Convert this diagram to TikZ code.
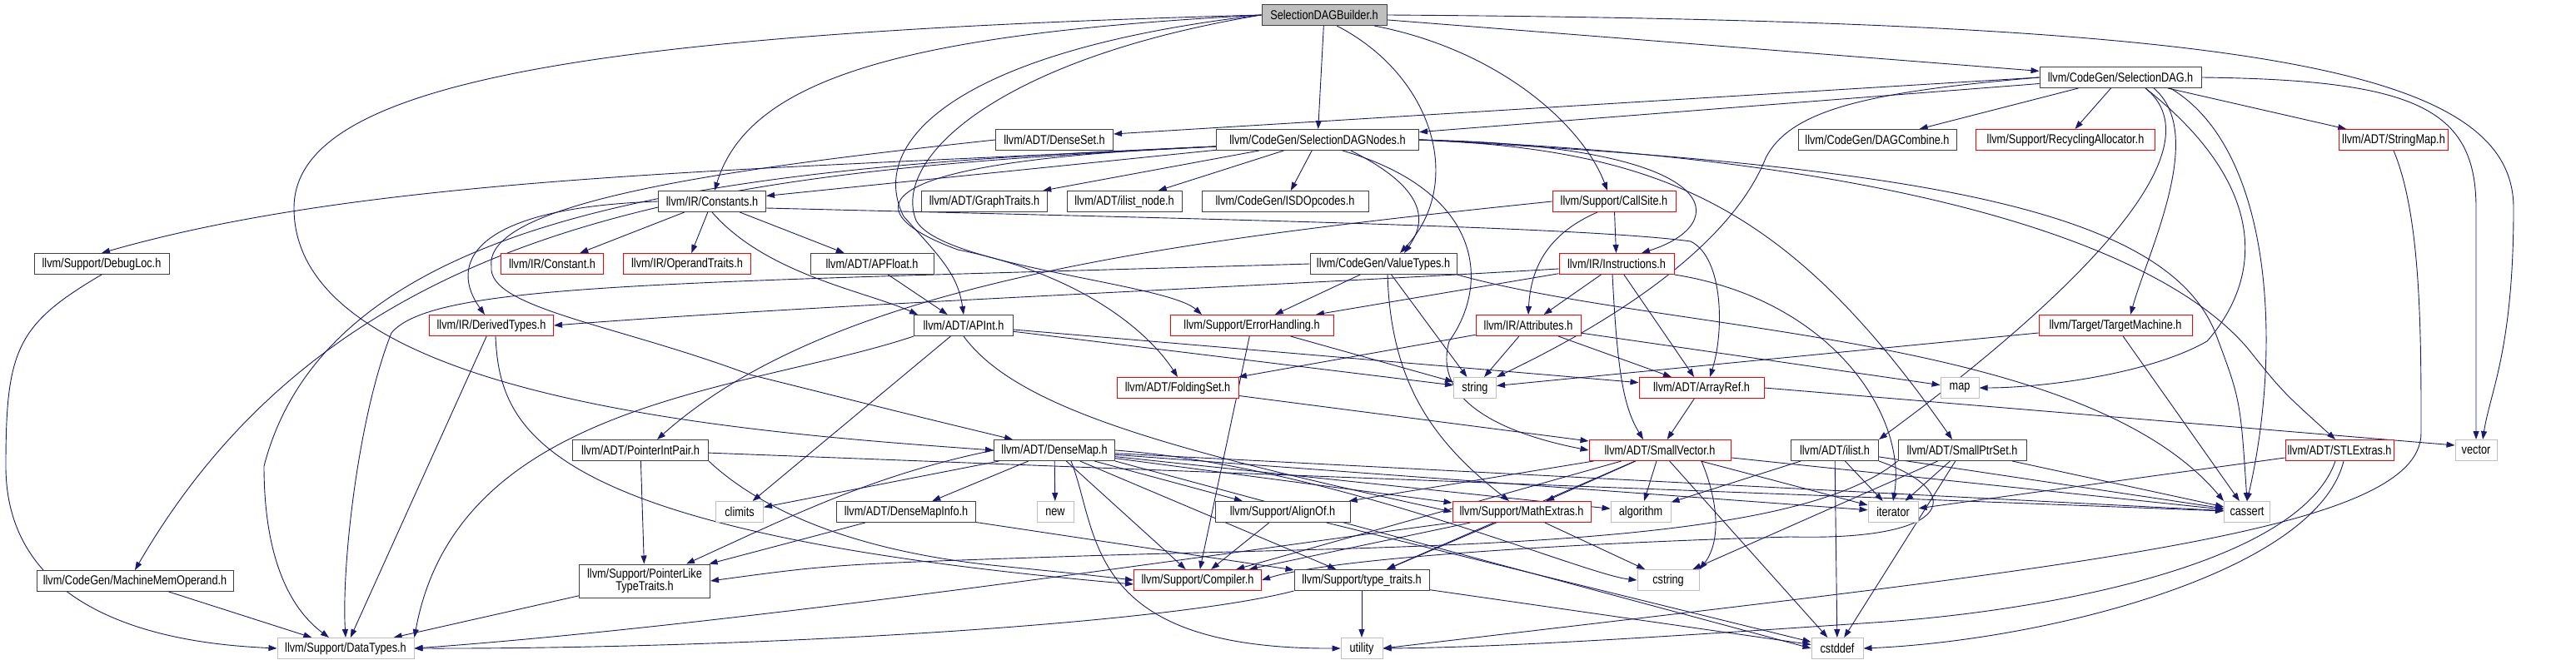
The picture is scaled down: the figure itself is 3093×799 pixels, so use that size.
\documentclass[tikz,border=0pt]{standalone}
\usepackage{fontspec}
\newfontfamily\graphfont{Liberation Sans}[FakeStretch=0.82]
\usetikzlibrary{arrows.meta,backgrounds}
\definecolor{edgeblue}{RGB}{25,25,112}
\definecolor{sysgray}{RGB}{191,191,191}
\definecolor{docdark}{RGB}{64,64,64}
\tikzset{
  hdr/.style={rectangle, draw=docdark, line width=1pt, fill=white,
              minimum height=25pt, inner sep=1pt, align=center,
              font=\graphfont\fontsize{15.5}{15}\selectfont},
  rootbox/.style={hdr, fill=sysgray},
  redbox/.style={hdr, draw=red},
  sysbox/.style={hdr, draw=sysgray},
  wd/.style={minimum width=#1pt},
  arr/.style={-{Triangle[length=10pt,width=7pt]}, line width=0.9pt, color=edgeblue},
}
\begin{document}
\begin{tikzpicture}[x=1pt, y=-1pt]
  \useasboundingbox (0,0) rectangle (3093,799);

  \node[rootbox, wd=150] (bld) at (1590,18) {SelectionDAGBuilder.h};
  \node[hdr, wd=194] (sdag) at (2546,93) {llvm/CodeGen/SelectionDAG.h};

  \node[hdr, wd=141] (denseset) at (1266,168) {llvm/ADT/DenseSet.h};
  \node[hdr, wd=243] (sdn) at (1582,168) {llvm/CodeGen/SelectionDAGNodes.h};
  \node[hdr, wd=190] (dagcomb) at (2254,168) {llvm/CodeGen/DAGCombine.h};
  \node[redbox, wd=215] (recyc) at (2480,168) {llvm/Support/RecyclingAllocator.h};
  \node[redbox, wd=131] (strmap) at (2874,168) {llvm/ADT/StringMap.h};

  \node[hdr, wd=129] (constants) at (855,242) {llvm/IR/Constants.h};
  \node[hdr, wd=151] (graphtr) at (1182,242) {llvm/ADT/GraphTraits.h};
  \node[hdr, wd=138] (ilistnode) at (1350,242) {llvm/ADT/ilist\_node.h};
  \node[hdr, wd=200] (isd) at (1543,242) {llvm/CodeGen/ISDOpcodes.h};
  \node[redbox, wd=148] (callsite) at (1938,242) {llvm/Support/CallSite.h};

  \node[hdr, wd=162] (debugloc) at (122,317) {llvm/Support/DebugLoc.h};
  \node[redbox, wd=123] (constant) at (663,317) {llvm/IR/Constant.h};
  \node[redbox, wd=153] (opertr) at (825,317) {llvm/IR/OperandTraits.h};
  \node[hdr, wd=148] (apfloat) at (1047,317) {llvm/ADT/APFloat.h};
  \node[hdr, wd=176] (vt) at (1661,317) {llvm/CodeGen/ValueTypes.h};
  \node[redbox, wd=138] (instr) at (1941,317) {llvm/IR/Instructions.h};

  \node[redbox, wd=149] (derived) at (590,391) {llvm/IR/DerivedTypes.h};
  \node[hdr, wd=119] (apint) at (1157,391) {llvm/ADT/APInt.h};
  \node[redbox, wd=196] (errh) at (1503,391) {llvm/Support/ErrorHandling.h};
  \node[redbox, wd=126] (attrs) at (1835,391) {llvm/IR/Attributes.h};
  \node[redbox, wd=184] (target) at (2540,391) {llvm/Target/TargetMachine.h};

  \node[redbox, wd=146] (folding) at (1414,466) {llvm/ADT/FoldingSet.h};
  \node[sysbox, wd=51] (string) at (1771,466) {string};
  \node[redbox, wd=150] (arrayref) at (2043,466) {llvm/ADT/ArrayRef.h};
  \node[sysbox, wd=46] (map) at (2353,466) {map};

  \node[hdr, wd=163] (pip) at (769,541) {llvm/ADT/PointerIntPair.h};
  \node[hdr, wd=145] (densemap) at (1266,541) {llvm/ADT/DenseMap.h};
  \node[redbox, wd=170] (smallvec) at (1993,541) {llvm/ADT/SmallVector.h};
  \node[hdr, wd=105] (ilist) at (2203,541) {llvm/ADT/ilist.h};
  \node[hdr, wd=154] (smallptr) at (2356,541) {llvm/ADT/SmallPtrSet.h};
  \node[redbox, wd=130] (stlext) at (2809,541) {llvm/ADT/STLExtras.h};
  \node[sysbox, wd=50] (vector) at (2973,541) {vector};

  \node[sysbox, wd=57] (climits) at (888,615) {climits};
  \node[hdr, wd=167] (dmi) at (1088,615) {llvm/ADT/DenseMapInfo.h};
  \node[sysbox, wd=44] (new) at (1267,615) {new};
  \node[hdr, wd=162] (alignof) at (1540,615) {llvm/Support/AlignOf.h};
  \node[redbox, wd=166] (mathext) at (1827,615) {llvm/Support/MathExtras.h};
  \node[sysbox, wd=72] (algorithm) at (1970,615) {algorithm};
  \node[sysbox, wd=60] (iterator) at (2273,615) {iterator};
  \node[sysbox, wd=55] (cassert) at (2698,615) {cassert};

  \node[hdr, wd=236] (mmo) at (162,698) {llvm/CodeGen/MachineMemOperand.h};
  \node[hdr, wd=157, minimum height=40pt] (pltt) at (774,698) {llvm/Support/PointerLike\\TypeTraits.h};
  \node[redbox, wd=153] (compiler) at (1438,697) {llvm/Support/Compiler.h};
  \node[hdr, wd=162] (typetr) at (1635,697) {llvm/Support/type\_traits.h};
  \node[sysbox, wd=74] (cstring) at (2003,697) {cstring};

  \node[sysbox, wd=164] (datatypes) at (415,779) {llvm/Support/DataTypes.h};
  \node[sysbox, wd=50] (utility) at (1635,779) {utility};
  \node[sysbox, wd=62] (cstddef) at (2206,779) {cstddef};

  \begin{scope}[on background layer]
    % SelectionDAGBuilder.h
    \draw[arr] (bld) -- (sdag);
    \draw[arr] (bld) -- (sdn);
    \draw[arr] ([xshift=15pt]bld.south) .. controls (1720,90) and (1760,220) .. ([xshift=20pt]vt.north);
    \draw[arr] ([xshift=60pt]bld.south) .. controls (1800,60) and (1900,150) .. ([xshift=-8pt]callsite.north);
    \draw[arr] (bld.east) .. controls (2700,25) and (3018,80) .. (3018,250) .. controls (3018,420) and (2990,470) .. ([xshift=8pt]vector.north);
    \draw[arr] (bld.west) .. controls (1100,40) and (900,90) .. ([xshift=3pt]constants.north);
    \draw[arr] (bld.west) .. controls (1150,60) and (1040,170) .. (1085,260) .. controls (1130,310) and (1150,330) .. (apint.north);
    \draw[arr] (bld.west) .. controls (1200,70) and (1070,190) .. (1100,265) .. controls (1130,320) and (1400,340) .. ([xshift=-60pt]errh.north);
    \draw[arr] (bld.west) .. controls (700,40) and (353,100) .. (353,250) .. controls (353,480) and (900,520) .. (densemap.west);

    % SelectionDAG.h
    \foreach \dst in {sdn,dagcomb,recyc,strmap} \draw[arr] (sdag) -- (\dst);
    \draw[arr] (sdag.west) -- ([yshift=-6pt]denseset.north east);
    \draw[arr] ([xshift=30pt]sdag.south) .. controls (2680,190) and (2430,400) .. (ilist.north east);
    \draw[arr] ([xshift=40pt]sdag.south) .. controls (2650,160) and (2580,300) .. ([xshift=18pt]target.north);
    \draw[arr] ([xshift=60pt]sdag.south) .. controls (2730,180) and (2740,420) .. (cassert.north);
    \draw[arr] ([xshift=30pt]sdag.south) .. controls (2720,220) and (2720,330) .. (2650,410) .. controls (2580,450) and (2450,466) .. (map.east);
    \draw[arr] (sdag.west) .. controls (2250,110) and (2150,130) .. (2120,190) .. controls (2080,290) and (1950,380) .. (string.north east);
    \draw[arr] (sdag.east) .. controls (2900,96) and (2973,130) .. (2973,250) -- (vector);

    % SelectionDAGNodes.h
    \foreach \dst in {ilistnode,graphtr,isd,constants} \draw[arr] (sdn) -- (\dst);
    \draw[arr] ([yshift=-8pt]sdn.west) .. controls (900,205) and (450,210) .. (debugloc.north);
    \draw[arr] ([yshift=-8pt]sdn.west) .. controls (900,205) and (420,240) .. (mmo.north);
    \draw[arr] ([xshift=40pt]sdn.south) .. controls (1720,230) and (1710,270) .. ([xshift=25pt]vt.north);
    \draw[arr] (sdn.east) .. controls (2080,175) and (2080,270) .. ([xshift=30pt]instr.north);
    \draw[arr] (sdn.east) .. controls (2000,180) and (2150,250) .. ([xshift=-12pt]smallptr.north);
    \draw[arr] ([xshift=30pt]sdn.south) .. controls (1780,230) and (1790,340) .. (1740,410) .. controls (1720,480) and (1800,520) .. (smallvec.west);
    \draw[arr] (sdn.east) .. controls (2300,190) and (2600,300) .. (2700,420) .. controls (2740,470) .. ([xshift=-5pt]stlext.north);
    \draw[arr] (sdn.east) .. controls (2300,200) and (2600,250) .. (2660,400) .. controls (2690,480) .. (cassert.north);
    \draw[arr] ([yshift=-8pt]sdn.west) .. controls (1000,195) and (1040,260) .. (1150,300) .. controls (1300,330) and (1380,400) .. (folding.north);
    \draw[arr] ([yshift=-8pt]sdn.west) .. controls (900,200) and (400,240) .. (317,560) .. controls (317,690) and (360,740) .. ([xshift=-20pt]datatypes.north);

    % DenseSet.h, IR/Constants.h, APFloat.h, CallSite.h
    \draw[arr] (denseset.west) .. controls (900,200) and (580,240) .. (590,320) .. controls (585,370) and (740,390) .. (900,450) .. controls (1100,500) .. ([xshift=-50pt]densemap.north);
    \foreach \dst in {constant,opertr,apfloat} \draw[arr] (constants) -- (\dst);
    \draw[arr] (constants.west) .. controls (560,250) and (540,320) .. ([xshift=-8pt]derived.north);
    \draw[arr] (constants.south) .. controls (920,330) and (1040,350) .. ([xshift=-55pt]apint.north);
    \draw[arr] ([yshift=-8pt]constants.east) .. controls (1400,262) and (1900,272) .. (2030,290) .. controls (2070,310) and (2070,400) .. ([xshift=10pt]arrayref.north);
    \draw[arr] (apfloat) -- (apint);
    \draw[arr] (callsite) -- (instr);
    \draw[arr] ([xshift=-20pt]callsite.south) .. controls (1860,280) and (1838,320) .. (attrs.north);
    \draw[arr] (callsite.west) .. controls (1400,290) and (1000,340) .. ([xshift=20pt]pip.north);

    % Instructions.h, ValueTypes.h
    \foreach \dst in {attrs,arrayref,errh} \draw[arr] (instr) -- (\dst);
    \draw[arr] ([xshift=-5pt]instr.south) .. controls (1942,450) and (1950,490) .. ([xshift=-20pt]smallvec.north);
    \draw[arr] ([yshift=-6pt]instr.west) .. controls (1500,345) and (1000,365) .. (derived.east);
    \draw[arr] (instr.south east) .. controls (2200,360) and (2290,500) .. (iterator.north);
    \foreach \dst in {errh,string} \draw[arr] (vt) -- (\dst);
    \draw[arr] ([xshift=5pt]vt.south) .. controls (1670,460) and (1720,530) .. ([xshift=-15pt]mathext.north);
    \draw[arr] (vt.west) .. controls (800,340) and (520,340) .. (470,400) .. controls (430,500) and (410,680) .. (datatypes.north);
    \draw[arr] (vt.south east) .. controls (2000,400) and (2500,400) .. (cassert.north west);

    % row of APInt.h
    \foreach \dst in {folding,string,arrayref,map} \draw[arr] (attrs) -- (\dst);
    \foreach \dst in {string,compiler} \draw[arr] (errh) -- (\dst);
    \foreach \dst in {string,cassert} \draw[arr] (target) -- (\dst);
    \foreach \dst in {climits,string,arrayref} \draw[arr] (apint) -- (\dst);
    \draw[arr] (apint.south) .. controls (1220,490) and (1400,540) .. (mathext.west);
    \draw[arr] (apint.south west) .. controls (900,470) and (550,480) .. (datatypes.north east);
    \draw[arr] (folding) -- (smallvec);
    \draw[arr] (arrayref) -- (smallvec);
    \draw[arr] (arrayref.east) -- ([yshift=6pt]vector.west);

    % PointerIntPair.h, DenseMap.h
    \foreach \dst in {pltt,cassert} \draw[arr] (pip) -- (\dst);
    \draw[arr] (pip.south east) .. controls (900,600) and (1000,660) .. (1200,680) .. controls (1300,690) .. (compiler.west);
    \foreach \dst in {pltt,typetr} \draw[arr] (dmi) -- (\dst);
    \foreach \dst in {dmi,new,alignof,mathext,compiler,typetr,iterator,cassert,algorithm,climits} \draw[arr] (densemap) -- (\dst);
    \draw[arr] (densemap.west) .. controls (1050,570) and (950,620) .. ([xshift=50pt]pltt.north);
    \draw[arr] ([xshift=20pt]densemap.south) .. controls (1320,640) and (1300,780) .. (utility.west);
    \draw[arr] (densemap.east) .. controls (1600,560) and (1900,690) .. (cstring.west);
    \draw[arr] (densemap.south east) -- (cstddef.west);

    % SmallVector.h, ilist.h, SmallPtrSet.h, STLExtras.h
    \foreach \dst in {alignof,mathext,algorithm,compiler,typetr,cassert,cstddef,iterator} \draw[arr] (smallvec) -- (\dst);
    \draw[arr] ([xshift=50pt]smallvec.south) .. controls (2070,620) and (2060,660) .. (cstring.north east);
    \foreach \dst in {algorithm,iterator,cassert,cstddef} \draw[arr] (ilist) -- (\dst);
    \draw[arr] (ilist.south east) .. controls (2360,590) and (2350,650) .. (2150,645) .. controls (1900,652) and (1600,670) .. (compiler.east);
    \foreach \dst in {iterator,cassert,cstring,cstddef} \draw[arr] (smallptr) -- (\dst);
    \draw[arr] (smallptr.south west) .. controls (2150,660) and (1700,655) .. (1300,668) .. controls (1000,678) .. (pltt.east);
    \draw[arr] (stlext) -- (iterator);
    \draw[arr] ([xshift=5pt]stlext.south) .. controls (2780,690) and (2450,770) .. (cstddef.east);
    \draw[arr] ([xshift=-5pt]stlext.south) .. controls (2760,680) and (2450,735) .. (2250,748) .. controls (2000,765) and (1800,778) .. (utility.east);
    \draw[arr] (strmap.south) .. controls (2907,260) and (2907,400) .. (2907,520) .. controls (2907,640) and (2500,680) .. (utility.east);

    % lower support headers
    \foreach \dst in {compiler,cstddef} \draw[arr] (alignof) -- (\dst);
    \foreach \dst in {compiler,typetr,cstring} \draw[arr] (mathext) -- (\dst);
    \draw[arr] (mathext.south west) .. controls (1500,660) and (900,750) .. (datatypes.east);
    \foreach \dst in {utility,cstddef} \draw[arr] (typetr) -- (\dst);
    \draw[arr] (typetr.south west) .. controls (1400,750) and (900,780) .. (datatypes.east);
    \foreach \src in {pltt,mmo,derived} \draw[arr] (\src) -- (datatypes);
    \draw[arr] ([xshift=5pt]derived.south) .. controls (600,520) and (650,640) .. ([yshift=-5pt]compiler.west);
    \draw[arr] (debugloc.south) .. controls (20,390) and (7,420) .. (7,560) .. controls (7,760) and (250,775) .. (datatypes.west);
  \end{scope}
\end{tikzpicture}
\end{document}
